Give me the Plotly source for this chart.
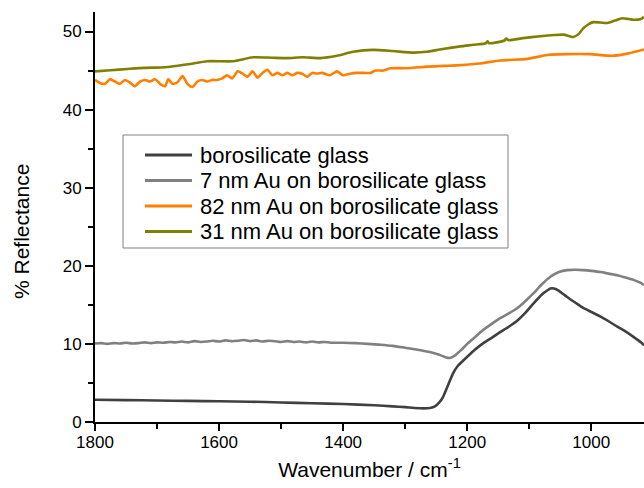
import plotly.graph_objects as go

# ---------------- data ----------------
boro_x = [1800, 1750, 1700, 1650, 1600, 1550, 1500, 1450, 1400, 1350, 1320, 1300, 1285, 1270, 1260,
          1252, 1245, 1239, 1232, 1223, 1215, 1206, 1190, 1174, 1160, 1147, 1133, 1119, 1106, 1093,
          1080, 1070, 1066, 1060, 1052, 1039, 1026, 1013, 1000, 985, 972, 958, 945, 932, 920, 915]
boro_y = [2.85, 2.8, 2.75, 2.7, 2.65, 2.6, 2.5, 2.4, 2.3, 2.15, 2.0, 1.9, 1.8, 1.75, 1.8,
          2.0, 2.5, 3.2, 4.5, 6.2, 7.2, 7.9, 9.1, 10.1, 10.8, 11.5, 12.2, 13.0, 14.0, 15.2,
          16.3, 16.9, 17.1, 17.1, 16.8, 16.0, 15.3, 14.6, 14.1, 13.5, 12.9, 12.2, 11.6, 10.9, 10.2, 9.8]

au7_x = [1800, 1790, 1780, 1770, 1760, 1750, 1740, 1730, 1720, 1710, 1700, 1690, 1680, 1670, 1660,
         1650, 1640, 1630, 1620, 1610, 1600, 1590, 1580, 1570, 1560, 1550, 1540, 1530, 1520, 1510,
         1500, 1490, 1480, 1470, 1460, 1450, 1440, 1430, 1420, 1400, 1380, 1360, 1340, 1320, 1300,
         1280, 1260, 1245, 1235, 1228, 1220, 1210, 1200, 1187, 1174, 1160, 1147, 1133, 1119, 1106,
         1093, 1080, 1066, 1052, 1039, 1026, 1013, 1000, 985, 972, 958, 945, 932, 920, 915]
au7_y = [10.05, 10.1, 10.0, 10.1, 10.05, 10.15, 10.05, 10.1, 10.2, 10.1, 10.2, 10.15, 10.25, 10.2, 10.3,
         10.2, 10.35, 10.25, 10.3, 10.4, 10.3, 10.45, 10.35, 10.4, 10.5, 10.35, 10.45, 10.3, 10.4, 10.35,
         10.25, 10.35, 10.25, 10.3, 10.2, 10.3, 10.2, 10.25, 10.15, 10.15, 10.1, 10.0, 9.9, 9.75, 9.5,
         9.25, 8.95, 8.6, 8.3, 8.2, 8.5, 9.2, 10.0, 10.9, 11.8, 12.6, 13.3, 13.9, 14.6, 15.5,
         16.5, 17.6, 18.6, 19.2, 19.45, 19.5, 19.45, 19.35, 19.2, 19.0, 18.8, 18.5, 18.2, 17.8, 17.5]

au82_x = [1800, 1792, 1784, 1776, 1768, 1760, 1752, 1744, 1736, 1727, 1719, 1711, 1703, 1695, 1687,
          1682, 1675, 1667, 1659, 1651, 1643, 1635, 1627, 1619, 1611, 1603, 1595, 1587, 1579, 1570,
          1562, 1554, 1546, 1538, 1530, 1522, 1514, 1506, 1498, 1490, 1482, 1474, 1466, 1458, 1450,
          1442, 1434, 1421, 1410, 1400, 1389, 1378, 1367, 1356, 1348, 1335, 1324, 1297, 1265, 1238,
          1211, 1180, 1147, 1103, 1071, 1040, 1002, 965, 940, 915]
au82_y = [43.8, 43.4, 43.3, 43.9, 43.6, 43.3, 43.8, 43.5, 43.0, 43.6, 43.8, 43.6, 43.9, 43.3, 43.0,
          43.9, 43.3, 43.5, 44.3, 43.3, 42.9, 43.6, 43.8, 43.6, 43.8, 43.8, 44.0, 44.4, 44.0, 44.9,
          44.6, 44.2, 44.9, 44.1, 44.7, 45.1, 44.4, 44.7, 44.4, 44.7, 44.4, 44.7, 44.6, 44.2, 44.7,
          44.6, 44.7, 44.4, 44.9, 44.4, 44.6, 44.7, 44.7, 44.7, 45.0, 45.0, 45.3, 45.3, 45.5, 45.6,
          45.7, 45.9, 46.3, 46.5, 47.0, 47.1, 47.1, 46.9, 47.2, 47.7]

au31_x = [1800, 1775, 1748, 1720, 1695, 1679, 1650, 1619, 1577, 1545, 1515, 1490, 1465, 1437, 1410,
          1384, 1352, 1320, 1287, 1265, 1244, 1211, 1190, 1170, 1167, 1165, 1140, 1137, 1134, 1110,
          1082, 1060, 1045, 1035, 1029, 1020, 1013, 1005, 997, 985, 974, 962, 950, 940, 932, 920, 915]
au31_y = [44.9, 45.05, 45.2, 45.35, 45.4, 45.5, 45.8, 46.2, 46.2, 46.7, 46.65, 46.6, 46.7, 46.6, 46.9,
          47.4, 47.65, 47.5, 47.3, 47.4, 47.7, 48.1, 48.3, 48.5, 48.75, 48.5, 48.85, 49.1, 48.9, 49.15,
          49.4, 49.55, 49.6, 49.4, 49.3, 49.7, 50.4, 50.9, 51.2, 51.15, 51.1, 51.4, 51.7, 51.6, 51.5, 51.6, 51.9]

names = ["borosilicate glass", "7 nm Au on borosilicate glass",
         "82 nm Au on borosilicate glass", "31 nm Au on borosilicate glass"]
colors = ["#404040", "#808080", "#FF8000", "#808000"]

FONT = "Liberation Sans, Arial, sans-serif"

W, H = 644, 488
ML, MR, MT, MB = 95, 0, 12, 66
PW, PH = W - ML - MR, H - MT - MB


def px(xp):
    return (xp - ML) / PW


def py(yp):
    return (H - MB - yp) / PH


fig = go.Figure()
for xs, ys, nm, c in zip([boro_x, au7_x, au82_x, au31_x], [boro_y, au7_y, au82_y, au31_y], names, colors):
    fig.add_trace(go.Scatter(x=xs, y=ys, mode="lines", name=nm, showlegend=False,
                             line=dict(color=c, width=2.6, shape="spline", smoothing=0.6)))

# manual legend (box, line samples, labels)
shapes = [dict(type="rect", xref="paper", yref="paper", x0=px(123), x1=px(508), y0=py(248), y1=py(135),
               line=dict(color="#808080", width=1), fillcolor="white", layer="above")]
annotations = []
legend_rows = [155, 180.5, 206, 231.5]
for nm, c, yr in zip(names, colors, legend_rows):
    shapes.append(dict(type="line", xref="paper", yref="paper", x0=px(145), x1=px(192), y0=py(yr), y1=py(yr),
                       line=dict(color=c, width=3), layer="above"))
    annotations.append(dict(xref="paper", yref="paper", x=px(198), y=py(yr), xanchor="left", yanchor="middle",
                            text=nm, showarrow=False,
                            font=dict(family=FONT, size=22, color="black")))

# y axis title
annotations.append(dict(xref="paper", yref="paper", x=px(21), y=py(232), xanchor="center", yanchor="middle",
                        text="% Reflectance", textangle=-90, showarrow=False,
                        font=dict(family=FONT, size=21, color="black")))

axis_common = dict(showgrid=False, zeroline=False, showline=True, linecolor="black", linewidth=2,
                   ticks="outside", tickwidth=1.5, tickcolor="black",
                   tickfont=dict(family=FONT, size=17, color="black"), mirror=False)

fig.update_layout(
    width=W, height=H,
    margin=dict(l=ML, r=MR, t=MT, b=MB),
    paper_bgcolor="white", plot_bgcolor="white",
    showlegend=False,
    shapes=shapes,
    annotations=annotations,
    xaxis=dict(range=[1800, 915], tickvals=[1800, 1600, 1400, 1200, 1000], ticklen=7,
               ticklabelstandoff=-3,
               minor=dict(tickvals=[1700, 1500, 1300, 1100], ticks="outside", ticklen=5,
                          tickwidth=1.5, tickcolor="black"),
               title=dict(text="Wavenumber / cm<sup>-1</sup>",
                          font=dict(family=FONT, size=21, color="black"), standoff=11),
               **axis_common),
    yaxis=dict(range=[0, 52.5], tickvals=[0, 10, 20, 30, 40, 50], ticklen=8,
               minor=dict(tickvals=[5, 15, 25, 35, 45], ticks="outside", ticklen=5,
                          tickwidth=1.5, tickcolor="black"),
               **axis_common),
)

fig.write_html("out.html")
